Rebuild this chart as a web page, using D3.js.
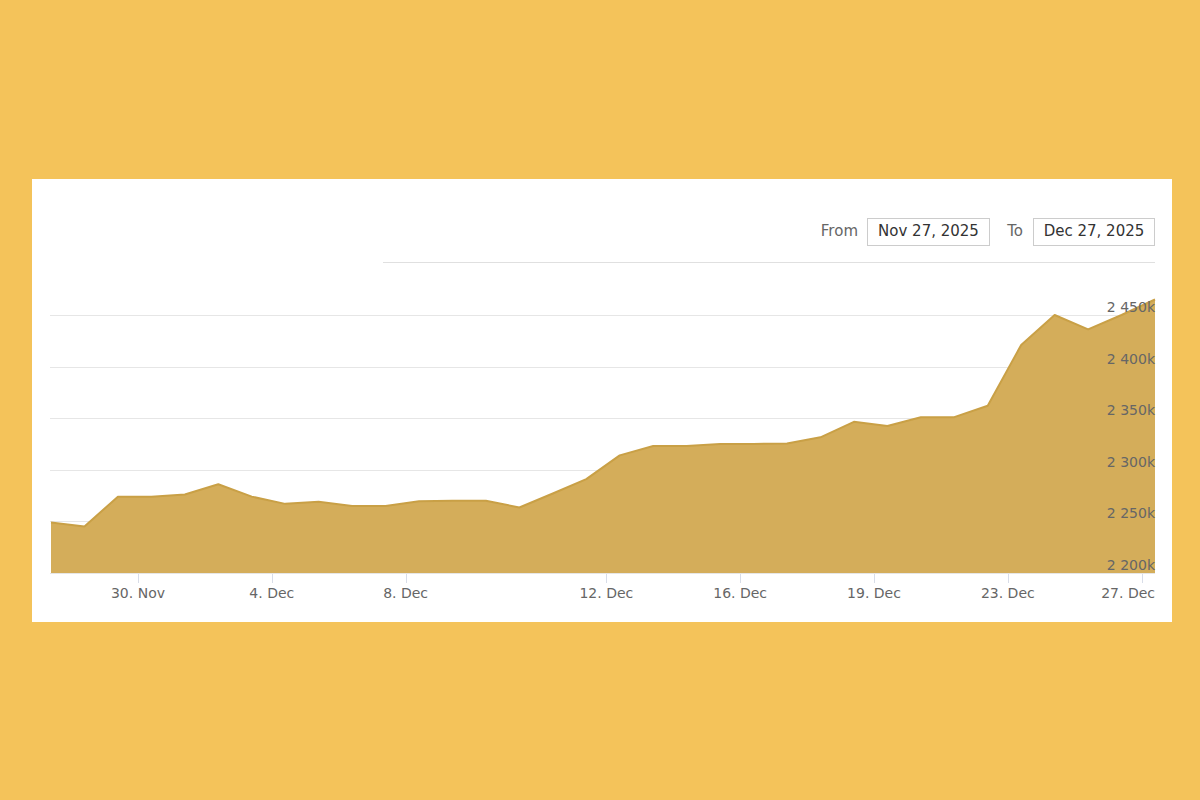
<!DOCTYPE html>
<html>
<head>
<meta charset="utf-8">
<script src="https://cdn.jsdelivr.net/npm/d3@7"></script>
<style>
  html, body { margin: 0; padding: 0; background: #F4C35A; }
  svg { display: block; }
</style>
</head>
<body>
<svg id="chart" width="1200" height="800"></svg>
<script>
// ---- data (values in thousands, points equally spaced on an ordinal axis) ----
const values = [
  2249, 2245, 2274, 2274, 2276, 2286, 2274, 2267, 2269, 2265,
  2265, 2269.5, 2270, 2270, 2263.5, 2277, 2291, 2314, 2323, 2323,
  2325, 2325, 2325.5, 2331.5, 2346.5, 2342.5, 2351, 2351, 2362, 2421,
  2450, 2436, 2450, 2465
];
const xTickPositions = [2.6, 6.6, 10.6, 16.6, 20.6, 24.6, 28.6, 32.6];
const xTickLabels = ["30. Nov", "4. Dec", "8. Dec", "12. Dec", "16. Dec", "19. Dec", "23. Dec", "27. Dec"];
const yTicks = [2200, 2250, 2300, 2350, 2400, 2450];
const yTopLine = 2500;
const fromLabel = "From";
const toLabel = "To";
const fromDate = "Nov 27, 2025";
const toDate = "Dec 27, 2025";

(function () {
const svg = d3.select("#chart");
const font = "'DejaVu Sans', sans-serif";

// panel
svg.append("rect").attr("x", 32).attr("y", 179).attr("width", 1140).attr("height", 443).attr("fill", "#ffffff");

const pLeft = 51, pRight = 1155, pBottom = 573, pTop = 315;
const x = d3.scaleLinear().domain([0, values.length - 1]).range([pLeft, pRight]);
const y = d3.scaleLinear().domain([2200, 2450]).range([pBottom, pTop]);

// gridlines
svg.append("g").selectAll("line").data(yTicks).join("line")
  .attr("x1", pLeft - 1).attr("x2", pRight)
  .attr("y1", d => Math.round(y(d)) + 0.5).attr("y2", d => Math.round(y(d)) + 0.5)
  .attr("stroke", "#e6e6e6").attr("stroke-width", 1);
svg.append("line")
  .attr("x1", 383).attr("x2", pRight)
  .attr("y1", Math.round(y(yTopLine)) - 0.5).attr("y2", Math.round(y(yTopLine)) - 0.5)
  .attr("stroke", "#e0e0e0").attr("stroke-width", 1);

// area
const area = d3.area().x((d, i) => x(i)).y0(y(2200)).y1(d => y(d));
const line = d3.line().x((d, i) => x(i)).y(d => y(d));
svg.append("path").datum(values).attr("d", area).attr("fill", "#D4AD5A");
svg.append("path").datum(values).attr("d", line).attr("fill", "none")
  .attr("stroke", "#C9A046").attr("stroke-width", 2).attr("stroke-linejoin", "round");

// x axis ticks + labels
const xg = svg.append("g");
xg.selectAll("line").data(xTickPositions).join("line")
  .attr("x1", d => Math.round(x(d)) + 0.5).attr("x2", d => Math.round(x(d)) + 0.5)
  .attr("y1", pBottom + 1).attr("y2", pBottom + 10)
  .attr("stroke", "#d8dde8").attr("stroke-width", 1);
const last = xTickPositions.length - 1;
xg.selectAll("text").data(xTickPositions).join("text")
  .attr("x", (d, i) => i === last ? pRight : x(d)).attr("y", 598)
  .attr("text-anchor", (d, i) => i === last ? "end" : "middle")
  .attr("font-family", font).attr("font-size", 14).attr("fill", "#666666")
  .text((d, i) => xTickLabels[i]);

// y axis labels (inside, right)
svg.append("g").selectAll("text").data(yTicks).join("text")
  .attr("x", pRight).attr("y", d => y(d) - 3)
  .attr("text-anchor", "end")
  .attr("font-family", font).attr("font-size", 14).attr("fill", "#666666")
  .text(d => d3.format(",")(d).replace(",", " ") + "k");

// range inputs
const rg = svg.append("g").attr("font-family", font);
rg.append("text").attr("x", 858).attr("y", 235.5).attr("text-anchor", "end")
  .attr("font-size", 15).attr("fill", "#666666").text(fromLabel);
rg.append("rect").attr("x", 867.5).attr("y", 218.5).attr("width", 122).attr("height", 27)
  .attr("fill", "#ffffff").attr("stroke", "#cccccc");
rg.append("text").attr("x", 928.5).attr("y", 236).attr("text-anchor", "middle")
  .attr("font-size", 15).attr("fill", "#333333").text(fromDate);
rg.append("text").attr("x", 1023).attr("y", 235.5).attr("text-anchor", "end")
  .attr("font-size", 15).attr("fill", "#666666").text(toLabel);
rg.append("rect").attr("x", 1033.5).attr("y", 218.5).attr("width", 121).attr("height", 27)
  .attr("fill", "#ffffff").attr("stroke", "#cccccc");
rg.append("text").attr("x", 1094).attr("y", 236).attr("text-anchor", "middle")
  .attr("font-size", 15).attr("fill", "#333333").text(toDate);
})();
</script>
</body>
</html>
